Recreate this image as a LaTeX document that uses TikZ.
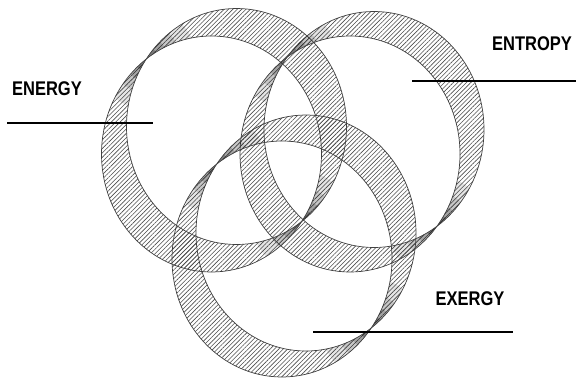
\documentclass[tikz,border=0pt]{standalone}
\usepackage{fontspec}
\setmainfont{Liberation Sans}
\usetikzlibrary{patterns.meta,intersections}
\newcommand\twistring[5]{%
  \path[name path=#1a] (#2,#3) ellipse [x radius=110,y radius=118];
  \path[name path=#1b] (#4,#5) ellipse [x radius=110,y radius=118];
  \fill[band] (#2,#3) ellipse [x radius=110,y radius=118] (#4,#5) ellipse [x radius=110,y radius=118];
  \path[name intersections={of=#1a and #1b, name=#1t}];
  \foreach \tp in {1,2}{%
    \foreach \rr/\op in {50/0.1,34/0.13,22/0.18,12/0.25}{%
      \begin{scope}
        \clip (#1t-\tp) circle [radius=\rr];
        \fill[black,opacity=\op,even odd rule] (#2,#3) ellipse [x radius=110,y radius=118] (#4,#5) ellipse [x radius=110,y radius=118];
      \end{scope}
    }
  }
  \draw[ringedge] (#2,#3) ellipse [x radius=110,y radius=118];
  \draw[ringedge] (#4,#5) ellipse [x radius=110,y radius=118];
}
\begin{document}
\begin{tikzpicture}[x=1pt,y=-1pt,
  band/.style={pattern={Lines[angle=45,distance=3.1pt,line width=0.6pt]},pattern color=black!70,even odd rule},
  ringedge/.style={draw=black!75,line width=0.7pt},
  lbl/.style={font=\bfseries\fontsize{16.5}{18}\selectfont,inner sep=0pt},
  lead/.style={line width=1.8pt}]
\useasboundingbox (0,0) rectangle (576,378);
\twistring{en}{236.5}{126.5}{211.5}{154}
\twistring{et}{374}{129.5}{350}{154}
\twistring{ex}{306}{233}{282}{259}
\node[lbl] (energy) at (47,89) {\scalebox{1}[1.2]{ENERGY}};
\node[lbl] (entropy) at (532,44) {\scalebox{1}[1.2]{ENTROPY}};
\node[lbl] (exergy) at (470,298.5) {\scalebox{1}[1.2]{EXERGY}};
\coordinate (enA) at (7,123);
\coordinate (enB) at (153,123);
\coordinate (etA) at (412,81);
\coordinate (etB) at (576,81);
\coordinate (exA) at (313,332);
\coordinate (exB) at (513,332);
\draw[lead] (enA) -- (enB);
\draw[lead] (etA) -- (etB);
\draw[lead] (exA) -- (exB);
\end{tikzpicture}
\end{document}
